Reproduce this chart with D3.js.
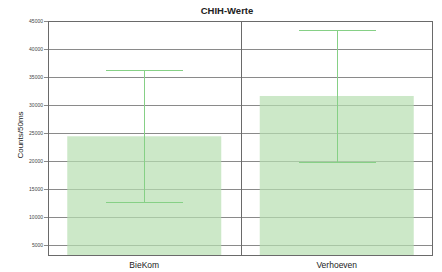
<!DOCTYPE html>
<html>
<head>
<meta charset="utf-8">
<script src="https://cdn.jsdelivr.net/npm/d3@7"></script>
<style>
  body { margin: 0; background: #fff; }
  svg { display: block; font-family: "Liberation Sans", Arial, sans-serif; }
</style>
</head>
<body>
<div id="chart"></div>
<script>
// data
const categories = ["BieKom", "Verhoeven"];
const means = [24400, 31600];
const errors = [11800, 11800];
const yTicks = [5000, 10000, 15000, 20000, 25000, 30000, 35000, 40000, 45000];
const title = "CHIH-Werte";
const yLabel = "Counts/50ms";

const width = 442, height = 272;
const margin = {top: 21, right: 9, bottom: 16, left: 48};
const w = width - margin.left - margin.right;
const h = height - margin.top - margin.bottom;

const svg = d3.select("#chart").append("svg")
  .attr("width", width)
  .attr("height", height);

const g = svg.append("g")
  .attr("transform", "translate(" + margin.left + "," + margin.top + ")");

const x = d3.scaleBand()
  .domain(categories)
  .range([0, w])
  .paddingInner(0)
  .paddingOuter(0);

const y = d3.scaleLinear()
  .domain([3000, 45000])
  .range([h, 0]);

// horizontal grid lines
g.append("g")
  .selectAll("line")
  .data(yTicks)
  .join("line")
  .attr("x1", -4)
  .attr("x2", w)
  .attr("y1", d => Math.round(y(d)) + 0.5)
  .attr("y2", d => Math.round(y(d)) + 0.5)
  .attr("stroke", "#8a8a8a")
  .attr("stroke-width", 1);

// divider between the categories
g.append("line")
  .attr("x1", Math.round(x(categories[1])) + 0.5)
  .attr("x2", Math.round(x(categories[1])) + 0.5)
  .attr("y1", 0)
  .attr("y2", h)
  .attr("stroke", "#6a6a6a");

// bars
const barPad = 0.1;
const bw = x.bandwidth() * (1 - 2 * barPad);
g.append("g")
  .selectAll("rect")
  .data(categories)
  .join("rect")
  .attr("x", d => x(d) + x.bandwidth() * barPad)
  .attr("y", (d, i) => y(means[i]))
  .attr("width", bw)
  .attr("height", (d, i) => h - y(means[i]))
  .attr("fill", "#b6deb0")
  .attr("fill-opacity", 0.7);

// error bars
const eb = g.append("g").attr("stroke", "#86d086").attr("stroke-width", 1);
categories.forEach((c, i) => {
  const cx = Math.round(x(c) + x.bandwidth() / 2) + 0.5;
  const top = Math.round(y(means[i] + errors[i])) + 0.5;
  const bot = Math.round(y(means[i] - errors[i])) + 0.5;
  eb.append("line").attr("x1", cx).attr("x2", cx).attr("y1", top).attr("y2", bot);
  eb.append("line").attr("x1", cx - bw / 4).attr("x2", cx + bw / 4).attr("y1", top).attr("y2", top);
  eb.append("line").attr("x1", cx - bw / 4).attr("x2", cx + bw / 4).attr("y1", bot).attr("y2", bot);
});

// frame
g.append("rect")
  .attr("x", 0.5).attr("y", 0.5)
  .attr("width", w - 1).attr("height", h - 1)
  .attr("fill", "none")
  .attr("stroke", "#6a6a6a");

// y tick labels
g.append("g")
  .selectAll("text")
  .data(yTicks)
  .join("text")
  .attr("x", -5)
  .attr("y", d => y(d))
  .attr("dy", "0.35em")
  .attr("text-anchor", "end")
  .attr("font-size", 5)
  .attr("fill", "#444")
  .text(d => d);

// x labels
g.append("g")
  .selectAll("text")
  .data(categories)
  .join("text")
  .attr("x", d => x(d) + x.bandwidth() / 2)
  .attr("y", h + 12)
  .attr("text-anchor", "middle")
  .attr("font-size", 8.5)
  .attr("fill", "#222")
  .text(d => d);

// title
svg.append("text")
  .attr("x", 227)
  .attr("y", 14)
  .attr("text-anchor", "middle")
  .attr("font-size", 9.5)
  .attr("font-weight", "bold")
  .attr("fill", "#222")
  .text(title);

// y axis label
svg.append("text")
  .attr("transform", "translate(23," + (margin.top + 114) + ") rotate(-90)")
  .attr("text-anchor", "middle")
  .attr("font-size", 8)
  .attr("fill", "#222")
  .text(yLabel);
</script>
</body>
</html>
